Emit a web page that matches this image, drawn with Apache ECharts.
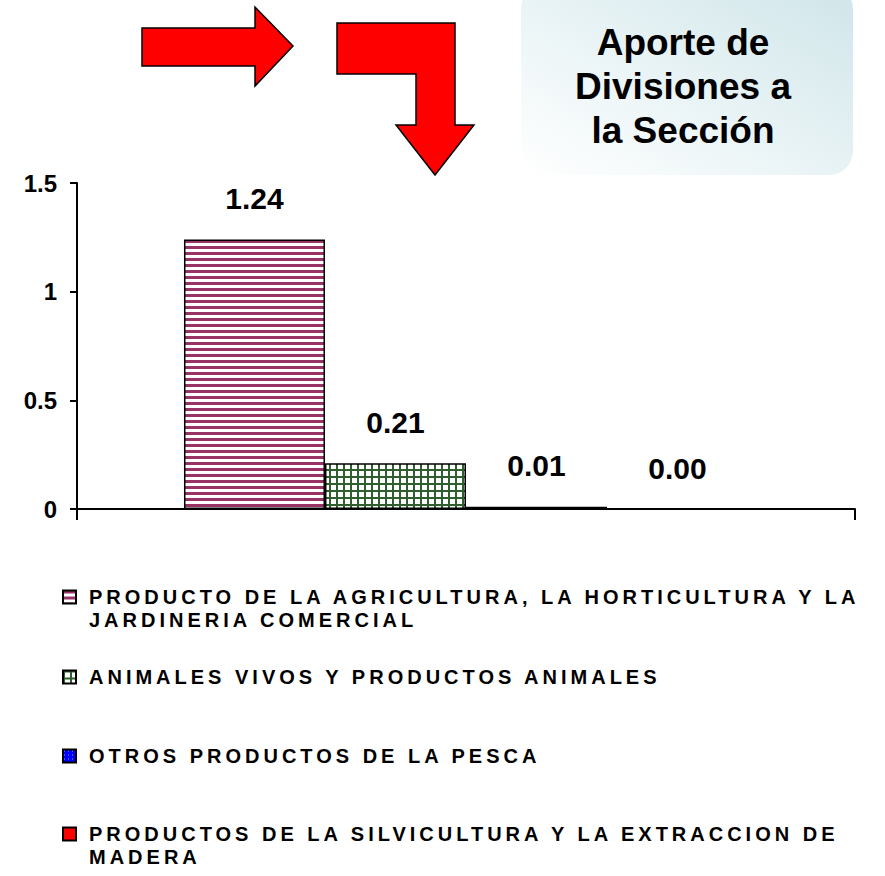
<!DOCTYPE html>
<html>
<head>
<meta charset="utf-8">
<title>Aporte de Divisiones a la Sección</title>
<script src="https://cdn.jsdelivr.net/npm/echarts@6/dist/echarts.min.js"></script>
<style>
  html, body { margin: 0; padding: 0; background: #fff; }
  #chart { width: 885px; height: 876px; }
  /* la leyenda va con letras espaciadas */
  #chart text[style*="20px"] { letter-spacing: 4px; }
</style>
</head>
<body>
<div id="chart"></div>
<script>
// datos
const categorias = ['Sección'];
const divisiones = [
  'PRODUCTO DE LA AGRICULTURA, LA HORTICULTURA Y LA\nJARDINERIA COMERCIAL',
  'ANIMALES VIVOS Y PRODUCTOS ANIMALES',
  'OTROS PRODUCTOS DE LA PESCA',
  'PRODUCTOS DE LA SILVICULTURA Y LA EXTRACCION DE\nMADERA'
];
const valores = [1.24, 0.21, 0.01, 0.00];
const ejeY = { min: 0, max: 1.5, paso: 0.5 };

const fuente = 'Arial, "Liberation Sans", sans-serif';

// tramas de relleno hechas en un canvas pequeño
function trama(ancho, alto, dibujar) {
  let c = document.createElement('canvas');
  c.width = ancho;
  c.height = alto;
  dibujar(c.getContext('2d'));
  return { image: c, repeat: 'repeat', imageWidth: ancho, imageHeight: alto };
}

const rayas = trama(6, 6, ctx => {
  ctx.fillStyle = '#ffffff'; ctx.fillRect(0, 0, 6, 6);
  ctx.fillStyle = '#993366'; ctx.fillRect(0, 0, 6, 3);
});
const cuadricula = trama(7, 7, ctx => {
  ctx.fillStyle = '#ffffff'; ctx.fillRect(0, 0, 7, 7);
  ctx.fillStyle = '#2f5f2f'; ctx.fillRect(0, 0, 7, 2); ctx.fillRect(0, 0, 2, 7);
});
const puntos = trama(4, 4, ctx => {
  ctx.fillStyle = '#0000ff'; ctx.fillRect(0, 0, 4, 4);
  ctx.fillStyle = '#8fa8ff'; ctx.fillRect(1, 1, 1, 1);
});
const rellenos = [rayas, cuadricula, puntos, '#ff0000'];

// altura de la primera linea de cada entrada de la leyenda
const lineaLeyenda = [597, 677, 756, 834];

let chart = echarts.init(document.getElementById('chart'), null, { renderer: 'svg' });

let series = divisiones.map((nombre, i) => ({
  name: nombre,
  type: 'bar',
  data: [valores[i]],
  barGap: '0%',
  barCategoryGap: '27.5%',
  itemStyle: { color: rellenos[i], borderColor: '#000', borderWidth: valores[i] > 0 ? 1.5 : 0 },
  label: {
    show: true,
    position: 'top',
    distance: 26,
    color: '#000',
    fontSize: 30,
    fontWeight: 'bold',
    fontFamily: fuente,
    formatter: p => p.value.toFixed(2)
  }
}));

let leyendas = divisiones.map((nombre, i) => {
  let dosLineas = nombre.indexOf('\n') >= 0;
  return {
    orient: 'vertical',
    left: 62,
    top: lineaLeyenda[i] - (dosLineas ? 34.5 : 11.5),
    padding: 0,
    data: [nombre],
    // una linea vacia arriba deja el icono a la altura de la primera linea
    formatter: n => (dosLineas ? '\n' + n : n),
    icon: 'rect',
    itemWidth: 13,
    itemHeight: 13,
    selectedMode: false,
    itemStyle: { borderColor: '#000', borderWidth: 2 },
    textStyle: {
      color: '#000',
      fontSize: 20,
      fontWeight: 'bold',
      fontFamily: fuente,
      lineHeight: 23,
      padding: [0, 0, 0, 8]
    }
  };
});

chart.setOption({
  animation: false,
  backgroundColor: '#fff',
  title: {
    text: 'Aporte de\nDivisiones a\nla Sección',
    left: 683,
    top: 20,
    padding: 0,
    textAlign: 'center',
    z: 10,
    textStyle: { color: '#000', fontSize: 37, fontWeight: 'bold', fontFamily: fuente, lineHeight: 44 }
  },
  graphic: [
    {
      // recuadro del titulo
      type: 'rect',
      z: 1,
      shape: { x: 521, y: -15, width: 332, height: 190, r: 24 },
      style: {
        fill: new echarts.graphic.LinearGradient(0, 1, 1, 0, [
          { offset: 0, color: '#ffffff' },
          { offset: 0.45, color: '#eaf4f6' },
          { offset: 1, color: '#cfe5e9' }
        ])
      }
    },
    {
      // flecha a la derecha
      type: 'polygon',
      z: 2,
      shape: { points: [[142, 28], [255, 28], [255, 7], [293, 46], [255, 86], [255, 66], [142, 66]] },
      style: { fill: '#ff0000', stroke: '#000', lineWidth: 1.5 }
    },
    {
      // flecha doblada hacia abajo
      type: 'polygon',
      z: 2,
      shape: { points: [[337, 23], [455, 23], [455, 125], [474, 125], [435, 175], [396, 125], [416, 125], [416, 74], [337, 74]] },
      style: { fill: '#ff0000', stroke: '#000', lineWidth: 1.5 }
    }
  ],
  legend: leyendas,
  grid: { left: 77, right: 30, top: 183, bottom: 367, containLabel: false },
  xAxis: {
    type: 'category',
    data: categorias,
    axisLine: { lineStyle: { color: '#000', width: 2 } },
    axisTick: { show: true, length: 11, lineStyle: { color: '#000', width: 2 } },
    axisLabel: { show: false }
  },
  yAxis: {
    type: 'value',
    min: ejeY.min,
    max: ejeY.max,
    interval: ejeY.paso,
    axisLine: { show: true, lineStyle: { color: '#000', width: 2 } },
    axisTick: { show: true, length: 7, lineStyle: { color: '#000', width: 2 } },
    splitLine: { show: false },
    axisLabel: { color: '#000', fontSize: 24, fontWeight: 'bold', fontFamily: fuente, margin: 20 }
  },
  series: series
});
</script>
</body>
</html>
